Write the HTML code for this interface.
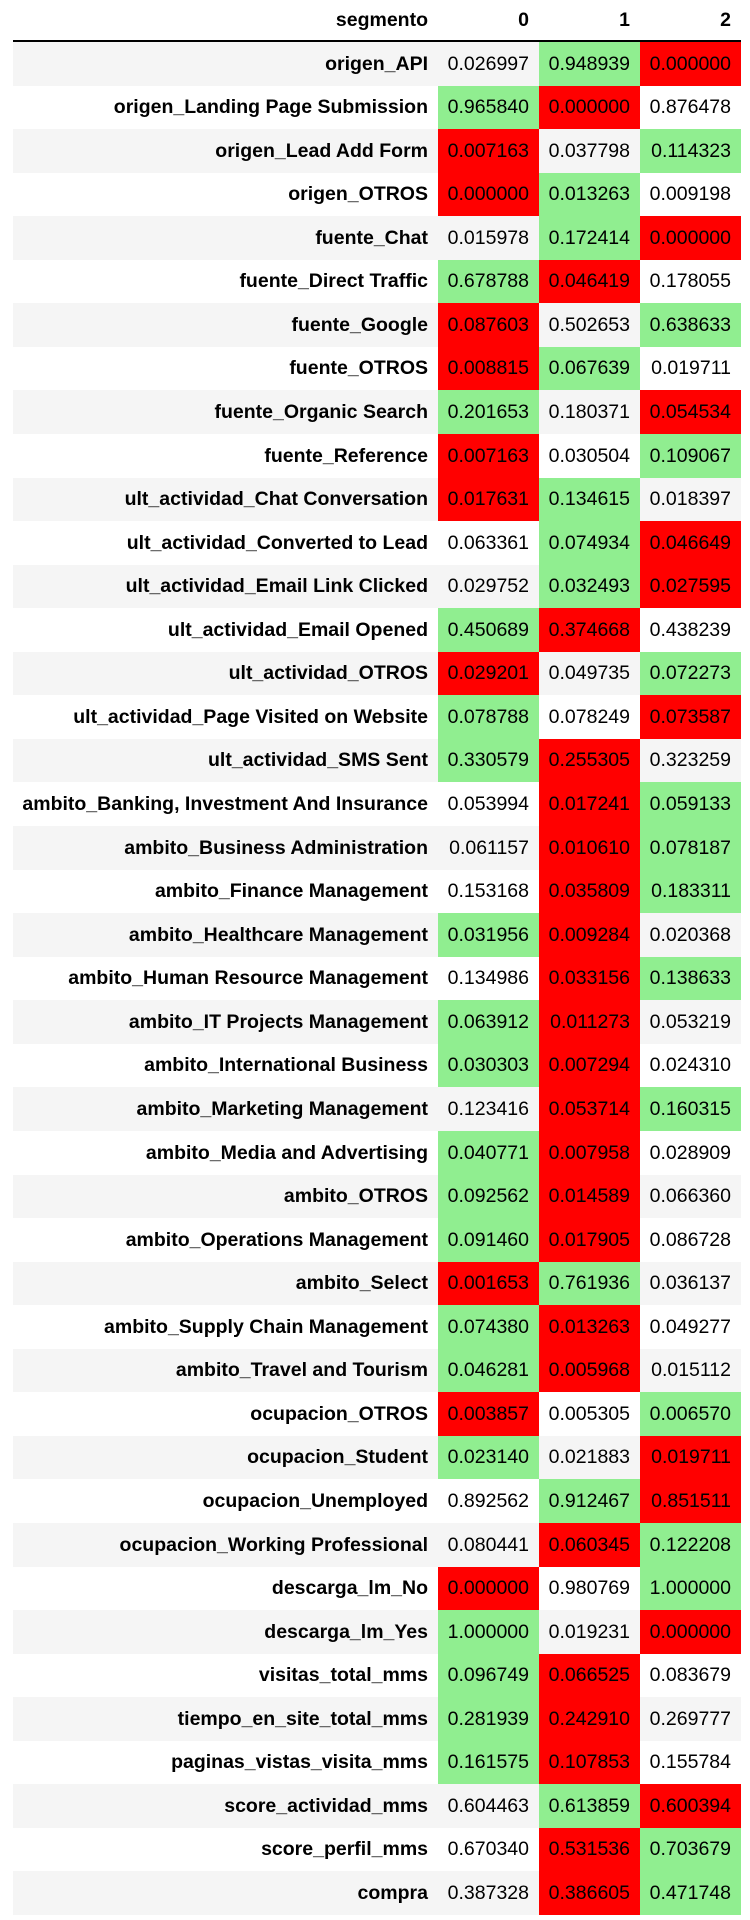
<!DOCTYPE html>
<html><head><meta charset="utf-8">
<style>
body{margin:0;background:#fff;width:750px;height:1920px;overflow:hidden;font-family:"Liberation Sans",Arial,sans-serif;}
#t{position:absolute;left:0;top:0;width:750px;height:1920px;}
.c{position:absolute;box-sizing:border-box;text-align:right;padding-right:10px;font-size:19.5px;color:#000;white-space:nowrap;}
.h{font-weight:bold;}
</style></head><body>
<div id="t"></div>
<script>
const rowLabels=["origen_API","origen_Landing Page Submission","origen_Lead Add Form","origen_OTROS","fuente_Chat","fuente_Direct Traffic","fuente_Google","fuente_OTROS","fuente_Organic Search","fuente_Reference","ult_actividad_Chat Conversation","ult_actividad_Converted to Lead","ult_actividad_Email Link Clicked","ult_actividad_Email Opened","ult_actividad_OTROS","ult_actividad_Page Visited on Website","ult_actividad_SMS Sent","ambito_Banking, Investment And Insurance","ambito_Business Administration","ambito_Finance Management","ambito_Healthcare Management","ambito_Human Resource Management","ambito_IT Projects Management","ambito_International Business","ambito_Marketing Management","ambito_Media and Advertising","ambito_OTROS","ambito_Operations Management","ambito_Select","ambito_Supply Chain Management","ambito_Travel and Tourism","ocupacion_OTROS","ocupacion_Student","ocupacion_Unemployed","ocupacion_Working Professional","descarga_lm_No","descarga_lm_Yes","visitas_total_mms","tiempo_en_site_total_mms","paginas_vistas_visita_mms","score_actividad_mms","score_perfil_mms","compra"];
const colLabels=["0","1","2"];
const seg0=[0.026997,0.965840,0.007163,0.000000,0.015978,0.678788,0.087603,0.008815,0.201653,0.007163,0.017631,0.063361,0.029752,0.450689,0.029201,0.078788,0.330579,0.053994,0.061157,0.153168,0.031956,0.134986,0.063912,0.030303,0.123416,0.040771,0.092562,0.091460,0.001653,0.074380,0.046281,0.003857,0.023140,0.892562,0.080441,0.000000,1.000000,0.096749,0.281939,0.161575,0.604463,0.670340,0.387328];
const seg1=[0.948939,0.000000,0.037798,0.013263,0.172414,0.046419,0.502653,0.067639,0.180371,0.030504,0.134615,0.074934,0.032493,0.374668,0.049735,0.078249,0.255305,0.017241,0.010610,0.035809,0.009284,0.033156,0.011273,0.007294,0.053714,0.007958,0.014589,0.017905,0.761936,0.013263,0.005968,0.005305,0.021883,0.912467,0.060345,0.980769,0.019231,0.066525,0.242910,0.107853,0.613859,0.531536,0.386605];
const seg2=[0.000000,0.876478,0.114323,0.009198,0.000000,0.178055,0.638633,0.019711,0.054534,0.109067,0.018397,0.046649,0.027595,0.438239,0.072273,0.073587,0.323259,0.059133,0.078187,0.183311,0.020368,0.138633,0.053219,0.024310,0.160315,0.028909,0.066360,0.086728,0.036137,0.049277,0.015112,0.006570,0.019711,0.851511,0.122208,1.000000,0.000000,0.083679,0.269777,0.155784,0.600394,0.703679,0.471748];
const series=[seg0,seg1,seg2];
const T=document.getElementById('t');
const colX=[13,438,539,640,741];
const top0=42, rowH=(1915-42)/rowLabels.length;
function cell(x,y,w,h,txt,cls,bg){
  const d=document.createElement('div');
  d.className='c '+cls;
  d.style.left=x+'px';d.style.top=y+'px';d.style.width=w+'px';d.style.height=h+'px';
  d.style.lineHeight=h+'px';
  if(bg)d.style.background=bg;
  d.textContent=txt;
  T.appendChild(d);return d;
}
let d=cell(colX[0],0,colX[1]-colX[0],40,"segmento","h");


for(let j=0;j<3;j++){
  d=cell(colX[j+1],0,colX[j+2]-colX[j+1],40,colLabels[j],"h");
  
  
}
const rule=document.createElement('div');
rule.style.cssText='position:absolute;left:13px;top:40px;width:728px;height:2px;background:#000;';


T.appendChild(rule);
rowLabels.forEach((lab,i)=>{
  const y=Math.round(top0+i*rowH), h=Math.round(top0+(i+1)*rowH)-y;
  const stripe=i%2===0?'#f5f5f5':null;
  const vals=series.map(s=>s[i]);
  const mx=Math.max(...vals), mn=Math.min(...vals);
  d=cell(colX[0],y,colX[1]-colX[0],h,lab,"h",stripe);
  
  
  for(let j=0;j<3;j++){
    const v=vals[j];
    let bg=stripe;
    if(v===mx)bg='#90ee90'; else if(v===mn)bg='#ff0000';
    d=cell(colX[j+1],y,colX[j+2]-colX[j+1],h,v.toFixed(6),"",bg);
    
    
  }
});
</script>
</body></html>
